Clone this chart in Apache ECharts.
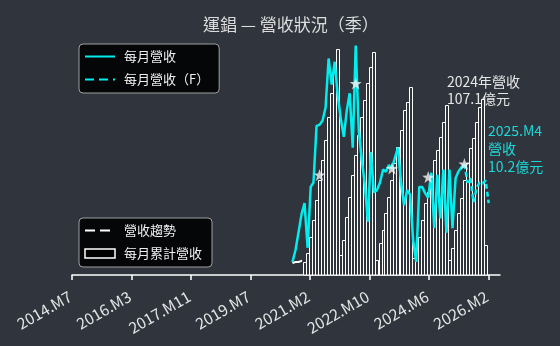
<!DOCTYPE html>
<html>
<head>
<meta charset="utf-8">
<script src="https://cdn.jsdelivr.net/npm/echarts@6/dist/echarts.min.js"></script>
<style>
  html, body { margin: 0; padding: 0; background: #2f343d; }
  #chart { width: 560px; height: 346px; }
</style>
</head>
<body>
<div id="chart"></div>
<script>
// x axis ticks, 600 days apart from the first one
var tickLabels = ["2014.M7", "2016.M3", "2017.M11", "2019.M7", "2021.M2", "2022.M10", "2024.M6", "2026.M2"];

// monthly revenue (億), first point 2020.M7
var lineStart = [2020, 7];
var monthlyRevenue = [1.2, 2.3, 3.9, 5.6, 6.6, 2.5, 8.1, 8.5, 13.7, 13.8,
  14.2, 15.4, 19.9, 17.5, 19.6, 16.5, 14.4, 12.7, 15.2, 16.7,
  11.7, 21.1, 13.3, 10.6, 8.3, 4.9, 11.3, 7.6, 7.8, 8.5,
  9.7, 9.5, 10.1, 9.8, 10.8, 11.7, 8.5, 6.4, 7.8, 7.4,
  3.2, 1.2, 8.1, 8.1, 7.5, 7.1, 9.4, 4.3, 9.2, 5.2,
  9.7, 3.9, 9.7, 4.3, 8.9, 9.5, 9.9, 10.2];
// forecast 2025.M5 - 2025.M12
var forecastStart = [2025, 5];
var forecastRevenue = [8.5, 8.9, 6.7, 8.0, 8.5, 8.4, 8.7, 6.6];
// revenue trend, only its start shows
var trendValues = [1.1, 1.2, 1.2, 1.3, 1.3];
// M4 of every year
var starMonths = [[2021, 4], [2022, 4], [2023, 4], [2024, 4], [2025, 4]];
var starValues = [9.2, 17.6, 9.8, 9.0, 10.2];

// cumulative revenue (億), the chart draws the first bar at 2020.M11
var barStart = [2020, 11];
var cum2020 = [7.9, 13.4, 23.1, 33.5, 45.6, 57.8, 70.0, 82.1, 96.1, 110.7, 124.7, 137.5];
var cum2021 = [12.2, 21.3, 35.3, 47.5, 60.8, 73.0, 85.2, 96.1, 106.5, 116.8, 126.6, 135.7];
var cum2022 = [9.1, 19.5, 27.4, 37.7, 47.5, 57.8, 68.2, 77.9, 88.2, 100.4, 105.3, 114.4];
var cum2023 = [10.3, 15.2, 23.1, 33.5, 43.8, 50.5, 59.6, 70.0, 76.1, 84.0, 93.1, 103.4];
var cum2024 = [9.1, 16.4, 27.4, 37.7, 46.9, 57.8, 68.2, 77.3, 83.4, 93.1, 102.2, 107.1];
var cum2025 = [18.3];

var CYAN = "#00eeee";
var BG = "#2f343d";
var FONT = "Noto Sans CJK TC";

// days from the axis origin to the end of a month
function monthEnd(y, m) {
  return (Date.UTC(y, m, 1) - Date.UTC(2014, 6, 1)) / 86400000;
}
function series(start, values) {
  return values.map(function (v, i) {
    var m = start[1] - 1 + i;
    return [monthEnd(start[0] + Math.floor(m / 12), (m % 12) + 1), v];
  });
}

var cumAll = [].concat(cum2020, cum2021, cum2022, cum2023, cum2024, cum2025);
var lineData = series(lineStart, monthlyRevenue);
var fcData = [lineData[lineData.length - 1]].concat(series(forecastStart, forecastRevenue));
var starData = starMonths.map(function (d, i) {
  return [monthEnd(d[0], d[1]), starValues[i]];
});
var tickValues = tickLabels.map(function (t, i) { return i * 600; });

// outlined bar snapped to whole pixels
function renderBar(params, api) {
  var top = api.coord([api.value(0), api.value(1)]);
  var base = api.coord([api.value(0), 0]);
  var x = Math.round(top[0] - 1.5) + 0.5;
  var y = Math.round(top[1]) + 0.5;
  return {
    type: "rect",
    shape: { x: x, y: y, width: 3, height: base[1] - y },
    style: { fill: BG, stroke: "#ffffff", lineWidth: 1 }
  };
}

var hideSymbol = { color: "rgba(0,0,0,0)", borderColor: "rgba(0,0,0,0)", borderWidth: 0, opacity: 0 };

var chart = echarts.init(document.getElementById("chart"));
var legendBox = {
  orient: "vertical",
  left: 79,
  backgroundColor: "#050607",
  borderColor: "#a0a0a0",
  borderWidth: 1,
  borderRadius: 4,
  padding: [6, 10, 7, 5],
  itemWidth: 30,
  itemHeight: 9,
  itemGap: 10,
  textStyle: { color: "#eeeeee", fontSize: 13, fontFamily: FONT, lineHeight: 13, padding: [0, 0, 0, 4] }
};

chart.setOption({
  backgroundColor: BG,
  animation: false,
  title: {
    text: "運錩 — 營收狀況（季）",
    left: 198,
    top: 11,
    textStyle: { color: "#dddddd", fontSize: 17, fontWeight: "normal", fontFamily: FONT }
  },
  legend: [
    Object.assign({}, legendBox, {
      top: 44,
      data: [
        { name: "每月營收", itemStyle: hideSymbol },
        { name: "每月營收（F）", itemStyle: hideSymbol, lineStyle: { type: [9, 5] } }
      ]
    }),
    Object.assign({}, legendBox, {
      top: 218,
      data: [
        { name: "營收趨勢", itemStyle: hideSymbol, lineStyle: { type: [10, 5] } },
        { name: "每月累計營收", icon: "rect", itemStyle: { color: "#000", borderColor: "#fff", borderWidth: 1.5 } }
      ]
    })
  ],
  grid: { left: 72, right: 60, top: 40, bottom: 71 },
  xAxis: {
    type: "value",
    min: 0,
    max: 4316,
    interval: 600,
    splitLine: { show: false },
    axisLine: { lineStyle: { color: "#ffffff", width: 1.5 } },
    axisTick: { customValues: tickValues, length: 5, lineStyle: { color: "#ffffff", width: 1.5 } },
    axisLabel: {
      customValues: tickValues,
      rotate: 30,
      margin: 19,
      padding: [0, 2, 0, 0],
      color: "#e4e4e4",
      fontSize: 15.5,
      fontFamily: FONT,
      formatter: function (v) { return tickLabels[Math.round(v / 600)]; }
    }
  },
  yAxis: [
    { type: "value", min: 0, max: 143, show: false, splitLine: { show: false } },
    { type: "value", min: 0, max: 21.6, show: false, splitLine: { show: false } }
  ],
  graphic: [
    {
      type: "text", left: 447, top: 73,
      style: { text: "2024年營收\n107.1億元", fill: "#e6e6e6", font: "14px '" + FONT + "'", lineHeight: 17 }
    },
    {
      type: "text", left: 488, top: 122,
      style: { text: "2025.M4\n營收\n10.2億元", fill: "#1ed8d8", font: "14px '" + FONT + "'", lineHeight: 18 }
    }
  ],
  series: [
    {
      name: "營收趨勢", type: "line", yAxisIndex: 1, z: 1,
      data: series(lineStart, trendValues),
      symbol: "none",
      lineStyle: { color: "#ffffff", width: 2, type: [10, 5] },
      itemStyle: { color: "#ffffff" }
    },
    {
      name: "每月累計營收", type: "custom", yAxisIndex: 0, z: 2,
      data: series(barStart, cumAll),
      encode: { x: 0, y: 1 },
      renderItem: renderBar,
      itemStyle: { color: BG, borderColor: "#ffffff" }
    },
    {
      name: "每月營收", type: "line", yAxisIndex: 1, z: 3,
      data: lineData,
      symbol: "none",
      lineStyle: { color: CYAN, width: 2.5 },
      itemStyle: { color: CYAN }
    },
    {
      name: "每月營收（F）", type: "line", yAxisIndex: 1, z: 3,
      data: fcData,
      symbol: "none",
      lineStyle: { color: CYAN, width: 2.5, type: [5, 3] },
      itemStyle: { color: CYAN }
    },
    {
      name: "stars", type: "scatter", yAxisIndex: 1, z: 4,
      data: starData,
      symbol: "path://M0,-10 L2.35,-3.24 L9.51,-3.09 L3.8,1.24 L5.88,8.09 L0,4 L-5.88,8.09 L-3.8,1.24 L-9.51,-3.09 L-2.35,-3.24 Z",
      symbolSize: 12,
      itemStyle: { color: "#f4f4f4" }
    }
  ]
});
</script>
</body>
</html>
